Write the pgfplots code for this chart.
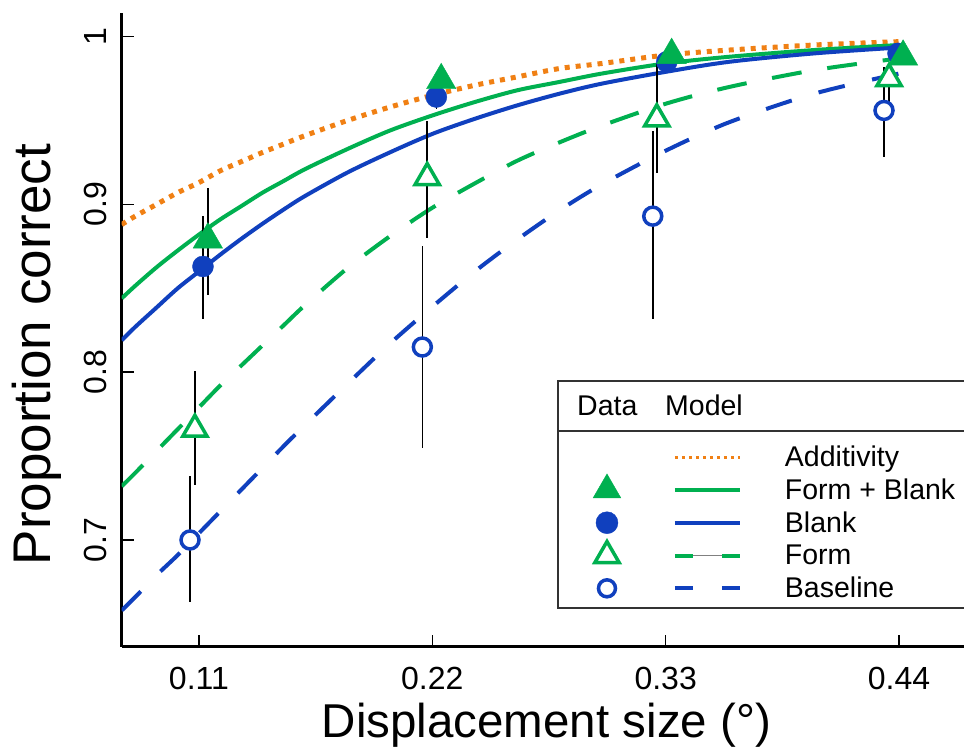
\documentclass[border=0pt]{standalone}
\usepackage{fontspec}
\setmainfont{Liberation Sans}
\usepackage{pgfplots}
\pgfplotsset{compat=1.18}
\definecolor{cgreen}{RGB}{0,176,80}
\definecolor{cblue}{RGB}{16,64,190}
\definecolor{corange}{RGB}{240,128,20}
\definecolor{boxgray}{RGB}{50,50,50}
\begin{document}
\begin{tikzpicture}
\begin{axis}[
  name=ax, at={(0,0)}, anchor=south west,
  scale only axis, width=842.3pt, height=633.4pt,
  xmin=0.0736, xmax=0.4706, ymin=0.6364, ymax=1.0139,
  axis x line*=bottom, axis y line*=left,
  axis line style={line width=2.8pt, -},
  tick align=inside, major tick length=12pt,
  tick style={line width=1.4pt, black},
  xtick={0.11,0.22,0.33,0.44}, xticklabels={0.11,0.22,0.33,0.44},
  ytick={0.7,0.8,0.9,1}, yticklabels={0.7,0.8,0.9,1},
  minor tick num=0,
  /pgf/number format/assume math mode=true,
  xticklabel style={font=\fontsize{32}{38}\selectfont, anchor=north, inner sep=0pt, yshift=-20pt},
  yticklabel style={font=\fontsize{32}{38}\selectfont, rotate=90, anchor=south, inner xsep=0pt, inner ysep=15pt},
  xlabel={Displacement size (°)},
  ylabel={Proportion correct},
  xlabel style={font=\fontsize{47.5}{56}\selectfont, at={(axis description cs:0.5043,-0.1426)}, anchor=base, inner sep=0pt},
  ylabel style={font=\fontsize{53}{60}\selectfont, at={(axis description cs:-0.0851,0.4613)}, anchor=base, inner sep=0pt},
  legend columns=2,
  legend cell align=left,
  legend style={at={(0.5524,0.3252)}, anchor=north west, draw=none, fill=none,
    inner sep=0pt, outer sep=0pt, row sep=0pt, column sep=0pt,
    font=\fontsize{28.5}{33}\selectfont, nodes={inner sep=0pt}},
]
% Model curves
\addplot[forget plot, corange, line width=5pt, dash pattern=on 5pt off 6pt, smooth] coordinates {
(0.0736,0.888) (0.08,0.893) (0.09,0.900) (0.10,0.907) (0.11,0.913) (0.12,0.920) (0.13,0.9255) (0.14,0.931) (0.15,0.936) (0.16,0.941) (0.18,0.950) (0.20,0.958) (0.22,0.965) (0.24,0.971) (0.26,0.976) (0.28,0.981) (0.30,0.984) (0.33,0.989) (0.36,0.992) (0.40,0.995) (0.44,0.997)};
\addplot[forget plot, cgreen, line width=4pt, smooth] coordinates {
(0.0736,0.844) (0.08,0.8515) (0.09,0.8625) (0.10,0.8725) (0.11,0.882) (0.12,0.891) (0.13,0.899) (0.14,0.907) (0.15,0.914) (0.16,0.921) (0.18,0.933) (0.20,0.944) (0.22,0.953) (0.24,0.961) (0.26,0.968) (0.28,0.973) (0.30,0.978) (0.33,0.984) (0.36,0.988) (0.40,0.992) (0.44,0.995)};
\addplot[forget plot, cblue, line width=4pt, smooth] coordinates {
(0.0736,0.819) (0.08,0.827) (0.09,0.8385) (0.10,0.850) (0.11,0.860) (0.12,0.870) (0.13,0.8795) (0.14,0.8885) (0.15,0.897) (0.16,0.905) (0.18,0.919) (0.20,0.931) (0.22,0.942) (0.24,0.951) (0.26,0.959) (0.28,0.966) (0.30,0.972) (0.33,0.979) (0.36,0.985) (0.40,0.990) (0.44,0.9935)};
\addplot[forget plot, cgreen, line width=4pt, dash pattern=on 30pt off 26pt, smooth] coordinates {
(0.0736,0.732) (0.08,0.740) (0.09,0.753) (0.10,0.766) (0.11,0.779) (0.12,0.792) (0.13,0.804) (0.14,0.816) (0.15,0.828) (0.16,0.840) (0.18,0.862) (0.20,0.881) (0.22,0.898) (0.24,0.9125) (0.26,0.926) (0.28,0.937) (0.30,0.947) (0.33,0.960) (0.36,0.970) (0.40,0.980) (0.44,0.987)};
\addplot[forget plot, cblue, line width=4pt, dash pattern=on 27pt off 28pt, smooth] coordinates {
(0.0736,0.658) (0.08,0.666) (0.09,0.679) (0.10,0.691) (0.11,0.704) (0.12,0.717) (0.13,0.730) (0.14,0.743) (0.15,0.756) (0.16,0.7685) (0.18,0.793) (0.20,0.817) (0.22,0.839) (0.24,0.860) (0.26,0.879) (0.28,0.8965) (0.30,0.912) (0.33,0.932) (0.36,0.949) (0.40,0.966) (0.44,0.978)};
% Data
\addplot[forget plot, only marks, mark=*, mark size=9pt, mark options={draw=cblue, fill=white, line width=3.5pt},
  error bars/.cd, y dir=both, y explicit, error mark=none, error bar style={line width=1.6pt, black}] coordinates {
(0.1058,0.700) += (0,0.038) -= (0,0.037)
(0.2153,0.815) += (0,0.060) -= (0,0.060)
(0.3239,0.893) += (0,0.051) -= (0,0.061)
(0.4329,0.956) += (0,0.026) -= (0,0.028)};
\addplot[forget plot, only marks, mark=triangle*, mark size=14pt, mark options={draw=cgreen, fill=white, line width=3.5pt},
  error bars/.cd, y dir=both, y explicit, error mark=none, error bar style={line width=1.6pt, black}] coordinates {
(0.1081,0.766) += (0,0.035) -= (0,0.033)
(0.2176,0.916) += (0,0.034) -= (0,0.036)
(0.3258,0.951) += (0,0.033) -= (0,0.032)
(0.4353,0.975) += (0,0.009) -= (0,0.014)};
\addplot[forget plot, only marks, mark=*, mark size=10.5pt, mark options={draw=cblue, fill=cblue},
  error bars/.cd, y dir=both, y explicit, error mark=none, error bar style={line width=1.6pt, black}] coordinates {
(0.1119,0.863) += (0,0.030) -= (0,0.031)
(0.2219,0.964) += (0,0.010) -= (0,0.007)
(0.3305,0.985) += (0,0.005) -= (0,0.006)
(0.4395,0.990) += (0,0.004) -= (0,0.005)};
\addplot[forget plot, only marks, mark=triangle*, mark size=17pt, mark options={draw=cgreen, fill=cgreen},
  error bars/.cd, y dir=both, y explicit, error mark=none, error bar style={line width=1.6pt, black}] coordinates {
(0.1142,0.879) += (0,0.031) -= (0,0.033)
(0.2242,0.974) += (0,0.009) -= (0,0.013)
(0.3328,0.989) += (0,0.005) -= (0,0.006)
(0.4419,0.988) += (0,0.004) -= (0,0.004)};
% Legend
\addlegendimage{legend image code/.code={\path[draw=none,fill=none] (0pt,-16.4pt) rectangle (85pt,16.4pt);}}
\addlegendentry{}
\addlegendimage{legend image code/.code={\path[draw=none,fill=none] (0pt,-16.4pt) rectangle (110pt,16.4pt); \draw[corange, line width=3pt, dash pattern=on 3.5pt off 3.5pt] (0pt,0pt) -- (65pt,0pt);}}
\addlegendentry{Additivity}
\addlegendimage{legend image code/.code={\path[draw=none,fill=none] (0pt,-16.4pt) rectangle (85pt,16.4pt); \draw[only marks, mark=triangle*, mark size=16pt, mark options={draw=cgreen, fill=cgreen}] plot coordinates {(20pt,0pt)};}}
\addlegendentry{}
\addlegendimage{legend image code/.code={\path[draw=none,fill=none] (0pt,-16.4pt) rectangle (110pt,16.4pt); \draw[cgreen, line width=4pt] (0pt,0pt) -- (65pt,0pt);}}
\addlegendentry{Form + Blank}
\addlegendimage{legend image code/.code={\path[draw=none,fill=none] (0pt,-16.4pt) rectangle (85pt,16.4pt); \draw[only marks, mark=*, mark size=11pt, mark options={draw=cblue, fill=cblue}] plot coordinates {(20pt,0pt)};}}
\addlegendentry{}
\addlegendimage{legend image code/.code={\path[draw=none,fill=none] (0pt,-16.4pt) rectangle (110pt,16.4pt); \draw[cblue, line width=4pt] (0pt,0pt) -- (65pt,0pt);}}
\addlegendentry{Blank}
\addlegendimage{legend image code/.code={\path[draw=none,fill=none] (0pt,-16.4pt) rectangle (85pt,16.4pt); \draw[only marks, mark=triangle*, mark size=14pt, mark options={draw=cgreen, fill=white, line width=3.5pt}] plot coordinates {(20pt,0pt)};}}
\addlegendentry{}
\addlegendimage{legend image code/.code={\path[draw=none,fill=none] (0pt,-16.4pt) rectangle (110pt,16.4pt); \draw[gray, line width=0.8pt] (0pt,0pt) -- (65pt,0pt); \draw[cgreen, line width=4pt] (0pt,0pt) -- (18pt,0pt) (47pt,0pt) -- (65pt,0pt);}}
\addlegendentry{Form}
\addlegendimage{legend image code/.code={\path[draw=none,fill=none] (0pt,-16.4pt) rectangle (85pt,16.4pt); \draw[only marks, mark=*, mark size=8.5pt, mark options={draw=cblue, fill=white, line width=3.5pt}] plot coordinates {(20pt,0pt)};}}
\addlegendentry{}
\addlegendimage{legend image code/.code={\path[draw=none,fill=none] (0pt,-16.4pt) rectangle (110pt,16.4pt); \draw[cblue, line width=4pt] (0pt,0pt) -- (18pt,0pt) (47pt,0pt) -- (65pt,0pt);}}
\addlegendentry{Baseline}
\end{axis}
\draw[boxgray, line width=1.8pt] (850pt,265.7pt) -- (436.3pt,265.7pt) -- (436.3pt,38.7pt) -- (850pt,38.7pt);
\draw[boxgray, line width=1.8pt] (436.3pt,215.7pt) -- (850pt,215.7pt);
\node[anchor=base west, inner sep=0pt, font=\fontsize{28.5}{33}\selectfont] at (455.3pt,230.7pt) {Data};
\node[anchor=base west, inner sep=0pt, font=\fontsize{28.5}{33}\selectfont] at (543.3pt,230.7pt) {Model};
\pgfresetboundingbox
\useasboundingbox (-121.7pt,-105.3pt) rectangle (842.3pt,646.7pt);
\end{tikzpicture}
\end{document}
